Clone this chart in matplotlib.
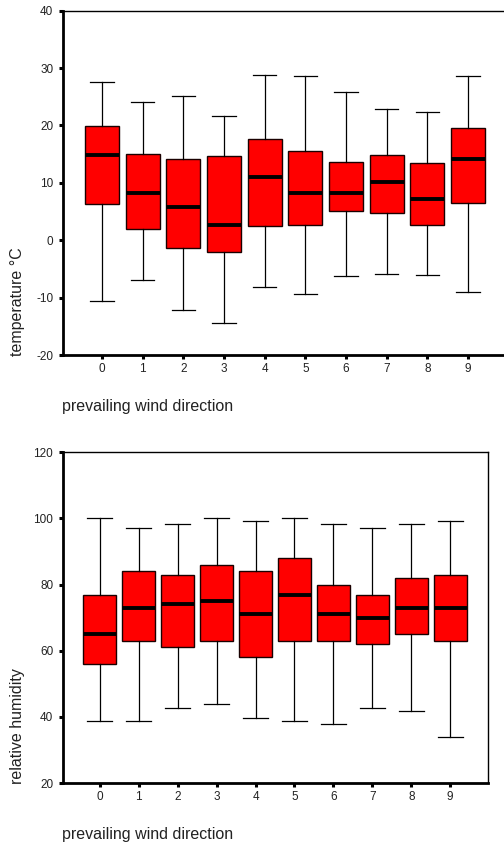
import matplotlib
matplotlib.use("Agg")
import matplotlib.pyplot as plt

plt.rcParams['font.family'] = ['Liberation Sans', 'DejaVu Sans']
plt.rcParams['axes.unicode_minus'] = False

categories = ['0', '1', '2', '3', '4', '5', '6', '7', '8', '9']

temp_whislo = [-10.6, -7.0, -12.2, -14.4, -8.2, -9.4, -6.2, -5.8, -6.0, -9.0]
temp_q1     = [6.4, 1.9, -1.3, -2.0, 2.5, 2.7, 5.1, 4.8, 2.7, 6.5]
temp_med    = [14.9, 8.2, 5.8, 2.7, 11.1, 8.2, 8.2, 10.1, 7.2, 14.1]
temp_q3     = [19.9, 15.1, 14.1, 14.7, 17.7, 15.6, 13.7, 14.9, 13.5, 19.5]
temp_whishi = [27.5, 24.1, 25.1, 21.7, 28.8, 28.6, 25.9, 22.9, 22.3, 28.6]

hum_whislo = [38.8, 38.8, 42.8, 43.8, 39.8, 38.8, 37.8, 42.8, 41.8, 33.8]
hum_q1     = [56.0, 63.0, 61.0, 63.0, 58.0, 63.0, 63.0, 62.0, 65.0, 63.0]
hum_med    = [65.0, 73.0, 74.0, 75.0, 71.0, 77.0, 71.0, 70.0, 73.0, 73.0]
hum_q3     = [77.0, 84.0, 83.0, 86.0, 84.0, 88.0, 80.0, 77.0, 82.0, 83.0]
hum_whishi = [100.0, 97.2, 98.2, 100.0, 99.3, 100.0, 98.2, 97.2, 98.2, 99.3]

temp_ticks = [-20, -10, 0, 10, 20, 30, 40]
hum_ticks = [20, 40, 60, 80, 100, 120]

W, H = 504, 843
fig = plt.figure(figsize=(W / 100, H / 100), dpi=100)

TXT = '#222222'


def make_stats(lo, q1, med, q3, hi):
    return [dict(whislo=a, q1=b, med=c, q3=d, whishi=e, fliers=[])
            for a, b, c, d, e in zip(lo, q1, med, q3, hi)]


def draw(ax, stats, ticks, ylim, xlim, bw, cw):
    pos = list(range(len(categories)))
    ax.bxp(stats, positions=pos, widths=bw, capwidths=cw, patch_artist=True,
           showfliers=False,
           boxprops=dict(facecolor='#ff0000', edgecolor='#1a0000', linewidth=1.0),
           medianprops=dict(color='black', linewidth=2.8, solid_capstyle='butt'),
           whiskerprops=dict(color='black', linewidth=0.9),
           capprops=dict(color='black', linewidth=0.9))
    ax.set_xlim(*xlim)
    ax.set_ylim(*ylim)
    ax.set_xticks(pos)
    ax.set_xticklabels(categories)
    ax.set_yticks(ticks)
    ax.set_yticklabels([str(t) for t in ticks])
    ax.tick_params(axis='both', direction='out', length=3, width=2.2,
                   labelsize=8.5, pad=4, colors='black', labelcolor=TXT)
    ax.tick_params(axis='x', pad=3)
    for s in ['left', 'bottom']:
        ax.spines[s].set_linewidth(2.0)
    for s in ['top', 'right']:
        ax.spines[s].set_linewidth(1.0)


# top axes
ax1 = fig.add_axes([63 / W, 1 - 355 / H, (507 - 63) / W, (355 - 10.7) / H])
draw(ax1, make_stats(temp_whislo, temp_q1, temp_med, temp_q3, temp_whishi),
     temp_ticks, (-20, 40), (-0.96, 9.96), 0.84, 0.57)

# bottom axes
ax2 = fig.add_axes([63 / W, 1 - 783 / H, (488 - 63) / W, (783 - 452.3) / H])
draw(ax2, make_stats(hum_whislo, hum_q1, hum_med, hum_q3, hum_whishi),
     hum_ticks, (20, 120), (-0.944, 9.97), 0.85, 0.65)

fs = 11.5
fig.text(18 / W, 1 - 356 / H, 'temperature °C', rotation=90, ha='center',
         va='bottom', fontsize=fs, color=TXT)
fig.text(17.5 / W, 1 - 784 / H, 'relative humidity', rotation=90, ha='center',
         va='bottom', fontsize=fs, color=TXT)
fig.text(62 / W, 1 - 407 / H, 'prevailing wind direction', ha='left',
         va='center', fontsize=fs, color=TXT)
fig.text(62 / W, 1 - 835 / H, 'prevailing wind direction', ha='left',
         va='center', fontsize=fs, color=TXT)

fig.savefig('out.png', dpi=100)
